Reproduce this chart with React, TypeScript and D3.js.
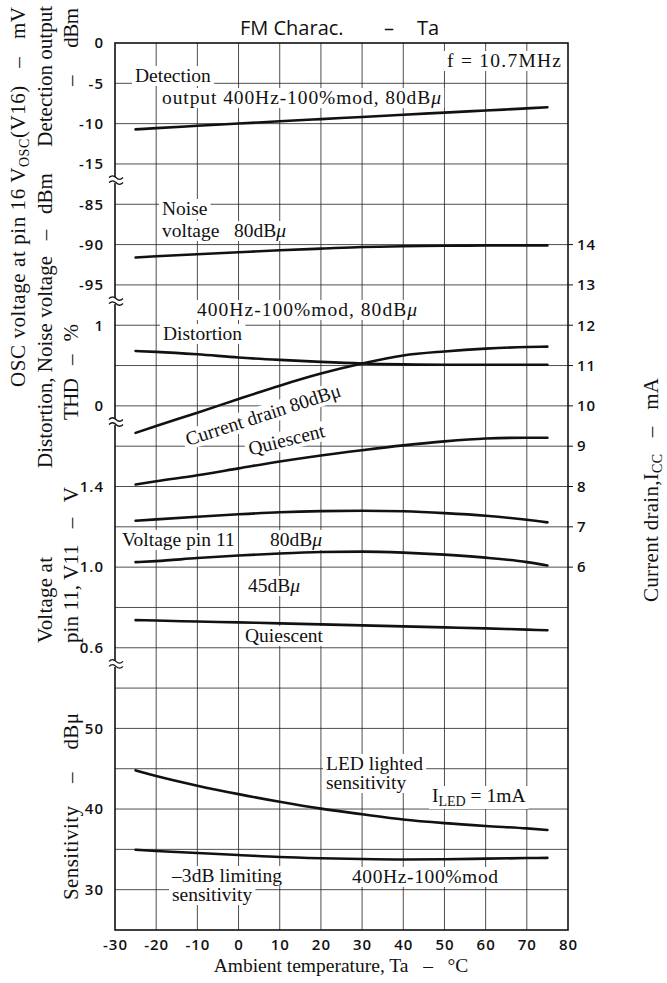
import React, { useEffect, useRef } from "react";
import * as d3 from "d3";

// ---------- data ----------
const temps = [-25, -20, -10, 0, 10, 20, 30, 40, 50, 60, 70, 75];
const detectionOutput = [-10.71, -10.56, -10.27, -9.99, -9.71, -9.44, -9.17, -8.9, -8.63, -8.37, -8.11, -7.97];
const noiseVoltage = [-91.6, -91.45, -91.2, -90.95, -90.7, -90.5, -90.3, -90.2, -90.15, -90.1, -90.1, -90.1];
const distortion = [0.68, 0.67, 0.64, 0.6, 0.57, 0.545, 0.525, 0.515, 0.51, 0.51, 0.51, 0.51];
const currentDrain80 = [9.33, 9.5, 9.83, 10.17, 10.5, 10.8, 11.05, 11.25, 11.35, 11.42, 11.46, 11.47];
const currentQuiescent = [8.05, 8.13, 8.28, 8.45, 8.62, 8.77, 8.9, 9.02, 9.12, 9.19, 9.21, 9.21];
const voltage80 = [1.23, 1.237, 1.25, 1.262, 1.272, 1.278, 1.28, 1.277, 1.268, 1.255, 1.235, 1.222];
const voltage45 = [1.025, 1.03, 1.045, 1.058, 1.068, 1.075, 1.077, 1.072, 1.062, 1.047, 1.025, 1.008];
const voltageQuiescent = [0.737, 0.735, 0.73, 0.726, 0.721, 0.716, 0.711, 0.706, 0.701, 0.696, 0.69, 0.687];
const ledSensitivity = [44.8, 44.1, 42.9, 41.85, 40.9, 40.05, 39.35, 38.7, 38.25, 37.9, 37.6, 37.4];
const limitingSensitivity = [34.95, 34.8, 34.55, 34.3, 34.05, 33.9, 33.8, 33.75, 33.78, 33.85, 33.92, 33.95];

const xTicks = [-30, -20, -10, 0, 10, 20, 30, 40, 50, 60, 70, 80];
const detTicks = [0, -5, -10, -15];
const noiseTicks = [-85, -90, -95];
const thdTicks = [1, 0];
const voltTicks = [1.4, 1.0, 0.6];
const sensTicks = [50, 40, 30];
const currentTicks = [14, 13, 12, 11, 10, 9, 8, 7, 6];

const SERIF = "'Liberation Serif', 'Times New Roman', serif";
const SANS = "'Open Sans', 'Noto Sans', sans-serif";

type Part = { t: string; sub?: boolean; italic?: boolean };
type Label = {
  x: number;
  y: number;
  parts: Part[];
  rotate?: number;
  anchor?: string;
  bg?: boolean;
  len?: number;
  size?: number;
};

const plotLabels: Label[] = [
  { x: 135, y: 82, parts: [{ t: "Detection" }] },
  { x: 162, y: 104, len: 279, parts: [{ t: "output 400Hz-100%mod, 80dB" }, { t: "μ", italic: true }] },
  { x: 447, y: 67, len: 114, parts: [{ t: "f = 10.7MHz" }] },
  { x: 162, y: 215, parts: [{ t: "Noise" }] },
  { x: 162, y: 237, parts: [{ t: "voltage   80dB" }, { t: "μ", italic: true }] },
  { x: 197, y: 316, len: 220, parts: [{ t: "400Hz-100%mod, 80dB" }, { t: "μ", italic: true }] },
  { x: 163, y: 340, parts: [{ t: "Distortion" }] },
  { x: 265, y: 421, rotate: -18, anchor: "middle", parts: [{ t: "Current drain 80dBμ" }] },
  { x: 288, y: 446, rotate: -14, anchor: "middle", parts: [{ t: "Quiescent" }] },
  { x: 122, y: 546, parts: [{ t: "Voltage pin 11" }] },
  { x: 270, y: 546, parts: [{ t: "80dB" }, { t: "μ", italic: true }] },
  { x: 248, y: 592, parts: [{ t: "45dB" }, { t: "μ", italic: true }] },
  { x: 245, y: 642, parts: [{ t: "Quiescent" }] },
  { x: 326, y: 770, parts: [{ t: "LED lighted" }] },
  { x: 326, y: 789, parts: [{ t: "sensitivity" }] },
  { x: 432, y: 802, parts: [{ t: "I" }, { t: "LED", sub: true }, { t: " = 1mA" }] },
  { x: 172, y: 882, len: 110, parts: [{ t: "–3dB limiting" }] },
  { x: 172, y: 901, parts: [{ t: "sensitivity" }] },
  { x: 352, y: 883, len: 146, parts: [{ t: "400Hz-100%mod" }] },
];

// rotated axis titles (x = baseline, y = bottom start, len = span upward)
const axisTitles: Label[] = [
  { x: 25, y: 387, len: 380, parts: [{ t: "OSC voltage at pin 16 V" }, { t: "OSC", sub: true }, { t: "(V16)   –   mV" }] },
  { x: 52, y: 468, len: 462, parts: [{ t: "Distortion, Noise voltage   –   dBm     Detection output" }] },
  { x: 78, y: 86, len: 78, parts: [{ t: "–      dBm" }] },
  { x: 78, y: 420, len: 96, parts: [{ t: "THD   –   %" }] },
  { x: 52, y: 643, len: 86, parts: [{ t: "Voltage at" }] },
  { x: 78, y: 643, len: 156, parts: [{ t: "pin 11, V11   –   V" }] },
  { x: 78, y: 900, len: 187, parts: [{ t: "Sensitivity    –    dBμ" }] },
  { x: 658, y: 602, len: 224, parts: [{ t: "Current drain,I" }, { t: "CC", sub: true }, { t: "   –   mA" }] },
];

export default function App() {
  const ref = useRef<SVGSVGElement>(null);

  useEffect(() => {
    const svg = d3.select(ref.current);
    svg.selectAll("*").remove();

    const L = 115, R = 568, T = 43, B = 930;
    const x = d3.scaleLinear().domain([-30, 80]).range([L, R]);
    const row = d3.scaleLinear().domain([0, 22]).range([T, B]);
    const yDet = d3.scaleLinear().domain([0, -15]).range([row(0), row(3)]);
    const yNoise = d3.scaleLinear().domain([-85, -95]).range([row(4), row(6)]);
    const yThd = d3.scaleLinear().domain([1, 0]).range([row(7), row(9)]);
    const yVolt = d3.scaleLinear().domain([1.4, 0.6]).range([row(11), row(15)]);
    const ySens = d3.scaleLinear().domain([50, 30]).range([row(17), row(21)]);
    const yCur = d3.scaleLinear().domain([14, 6]).range([row(5), row(13)]);

    svg.append("rect").attr("width", 667).attr("height", 983).attr("fill", "#fff");

    // grid
    const grid = svg.append("g").attr("stroke", "#222").attr("stroke-width", 0.8);
    grid.selectAll("line.h").data(d3.range(1, 22)).join("line")
      .attr("x1", L).attr("x2", R).attr("y1", (d) => row(d)).attr("y2", (d) => row(d));
    grid.selectAll("line.v").data(xTicks.slice(1, -1)).join("line")
      .attr("x1", (d) => x(d)).attr("x2", (d) => x(d)).attr("y1", T).attr("y2", B);

    // right ticks
    svg.append("g").attr("stroke", "#111").attr("stroke-width", 1)
      .selectAll("line").data(currentTicks).join("line")
      .attr("x1", R).attr("x2", R + 5).attr("y1", (d) => yCur(d)).attr("y2", (d) => yCur(d));

    // border
    svg.append("rect").attr("x", L).attr("y", T).attr("width", R - L).attr("height", B - T)
      .attr("fill", "none").attr("stroke", "#111").attr("stroke-width", 1.6);

    // break marks
    const breaks = [3.4, 6.4, 9.4, 15.4];
    breaks.forEach((r) => {
      const yy = row(r);
      svg.append("rect").attr("x", L - 1).attr("y", yy - 3).attr("width", 3).attr("height", 6).attr("fill", "#fff");
      [-2.5, 2.5].forEach((o) => {
        svg.append("path")
          .attr("d", `M${L - 6},${yy + o} q3.5,-3.5 7,0 t7,0`)
          .attr("fill", "none").attr("stroke", "#111").attr("stroke-width", 1.3);
      });
    });

    // tick labels via axes
    const styleAxis = (g: any) => {
      g.select(".domain").remove();
      g.selectAll("line").remove();
      g.selectAll("text").attr("font-family", SANS).attr("font-size", 15).attr("font-weight", 600)
        .attr("letter-spacing", 1).attr("fill", "#111");
    };
    const leftAxis = (scale: any, ticks: number[], fmt: (d: number) => string) => {
      svg.append("g").attr("transform", `translate(${L},0)`)
        .call(d3.axisLeft(scale).tickValues(ticks).tickSize(0).tickPadding(11).tickFormat(fmt as any))
        .call(styleAxis);
    };
    leftAxis(yDet, detTicks, (d) => String(d));
    leftAxis(yNoise, noiseTicks, (d) => String(d));
    leftAxis(yThd, thdTicks, (d) => String(d));
    leftAxis(yVolt, voltTicks, (d) => d.toFixed(1));
    leftAxis(ySens, sensTicks, (d) => String(d));
    svg.append("g").attr("transform", `translate(${R},0)`)
      .call(d3.axisRight(yCur).tickValues(currentTicks).tickSize(0).tickPadding(9).tickFormat((d: any) => String(d)))
      .call(styleAxis);
    svg.append("g").attr("transform", `translate(0,${B})`)
      .call(d3.axisBottom(x).tickValues(xTicks).tickSize(0).tickPadding(9).tickFormat((d: any) => String(d)))
      .call(styleAxis);

    const bgLayer = svg.append("g");
    const lineLayer = svg.append("g");
    const textLayer = svg.append("g");

    const drawLabel = (lb: Label) => {
      const tx = textLayer.append("text")
        .attr("font-family", SERIF).attr("font-size", lb.size || 19.5).attr("fill", "#111")
        .attr("text-anchor", lb.anchor || "start")
        .style("white-space", "pre")
        .attr("transform", `translate(${lb.x},${lb.y}) rotate(${lb.rotate || 0})`);
      if (lb.len) tx.attr("textLength", lb.len).attr("lengthAdjust", "spacing");
      let shifted = false;
      lb.parts.forEach((p) => {
        const ts = tx.append("tspan").text(p.t);
        if (p.italic) ts.attr("font-style", "italic");
        if (p.sub) {
          ts.attr("font-size", 14).attr("dy", 4);
          shifted = true;
        } else if (shifted) {
          ts.attr("dy", -4);
          shifted = false;
        }
      });
      if (lb.bg !== false) {
        const node = tx.node() as SVGTextElement;
        const bb = node.getBBox();
        bgLayer.append("rect")
          .attr("x", bb.x - 3).attr("y", bb.y + 1).attr("width", bb.width + 6).attr("height", bb.height - 1)
          .attr("fill", "#fff")
          .attr("transform", `translate(${lb.x},${lb.y}) rotate(${lb.rotate || 0})`);
      }
    };
    plotLabels.forEach(drawLabel);
    axisTitles.forEach((t) => drawLabel({ ...t, rotate: -90, bg: false, size: 21 }));

    // series
    const series: [number[], any][] = [
      [detectionOutput, yDet],
      [noiseVoltage, yNoise],
      [distortion, yThd],
      [currentDrain80, yCur],
      [currentQuiescent, yCur],
      [voltage80, yVolt],
      [voltage45, yVolt],
      [voltageQuiescent, yVolt],
      [ledSensitivity, ySens],
      [limitingSensitivity, ySens],
    ];
    series.forEach(([vals, ys]) => {
      const line = d3.line<number>()
        .x((_, i) => x(temps[i]))
        .y((v) => ys(v))
        .curve(d3.curveMonotoneX);
      lineLayer.append("path").attr("d", line(vals) as string)
        .attr("fill", "none").attr("stroke", "#111").attr("stroke-width", 2.6).attr("stroke-linecap", "round");
    });

    // title
    const title = svg.append("g").attr("font-family", SANS).attr("font-size", 20).attr("fill", "#111");
    title.append("text").attr("x", 240).attr("y", 35).text("FM Charac.");
    title.append("text").attr("x", 389).attr("y", 35).attr("text-anchor", "middle").text("–");
    title.append("text").attr("x", 417).attr("y", 35).text("Ta");

    // x axis title
    svg.append("text").attr("x", 341).attr("y", 972).attr("text-anchor", "middle")
      .attr("font-family", SERIF).attr("font-size", 19.5).attr("fill", "#111")
      .style("white-space", "pre")
      .text("Ambient temperature, Ta   –   °C");
  }, []);

  return (
    <svg
      ref={ref}
      width={667}
      height={983}
      style={{ position: "absolute", left: 0, top: 0, display: "block" }}
    />
  );
}
